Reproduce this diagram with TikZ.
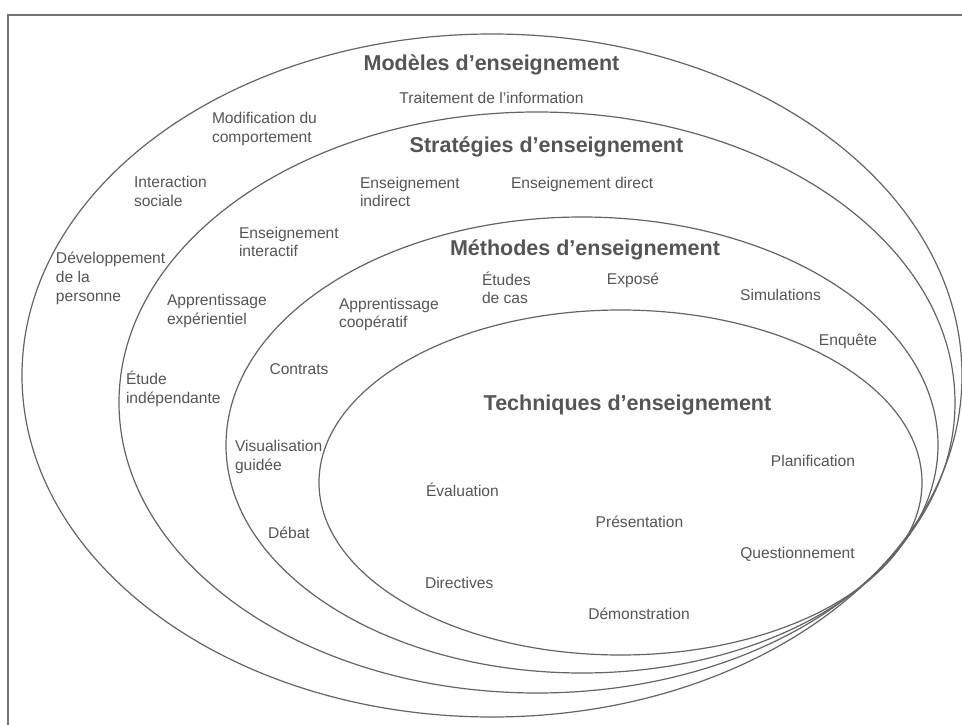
\documentclass[tikz,border=0pt]{standalone}
\usepackage{fontspec}
\setmainfont{Liberation Sans}
\usetikzlibrary{shapes.geometric}
\definecolor{txtc}{RGB}{85,85,85}
\definecolor{linec}{RGB}{100,100,100}
\definecolor{bordc}{RGB}{115,115,115}
\newcommand{\mlines}[1]{\begin{tabular}[t]{@{}l@{}}#1\end{tabular}}
\begin{document}
\begin{tikzpicture}[x=1pt,y=-1pt,
  lbl/.style={inner sep=0pt, outer sep=0pt, text=txtc, font=\fontsize{15.6}{18.8}\selectfont},
  lbll/.style={lbl, anchor=base west},
  lblc/.style={lbl, anchor=base},
  ttl/.style={inner sep=0pt, outer sep=0pt, text=txtc, font=\fontsize{21.5}{24}\selectfont\bfseries, anchor=base},
  ring/.style={ellipse, draw=linec, line width=1.2pt, inner sep=0pt, outer sep=0pt}]
\useasboundingbox (0,0) rectangle (962,725);
\fill[white] (0,0) rectangle (962,725);
\draw[bordc, line width=1.4pt] (8,725) -- (8,15) -- (962,15);

% nested ellipses
\node[ring, minimum width=940pt, minimum height=683pt] (models) at (492,375.5) {};
\node[ring, minimum width=836pt, minimum height=581pt] (strat) at (537,402.5) {};
\node[ring, minimum width=712pt, minimum height=456pt] (meth) at (582,445) {};
\node[ring, minimum width=603pt, minimum height=345pt] (tech) at (620.5,482.5) {};

% titles
\node[ttl] (tmod) at (491.5,70.5) {Modèles d’enseignement};
\node[ttl] (tstr) at (546.5,153) {Stratégies d’enseignement};
\node[ttl] (tmet) at (585,255) {Méthodes d’enseignement};
\node[ttl] (ttec) at (627.5,410) {Techniques d’enseignement};

% models
\node[lblc] (trait) at (491.5,103) {Traitement de l’information};
\node[lbll] (modif) at (212,124) {\mlines{Modification du\\comportement}};
\node[lbll] (inter) at (134,187.5) {\mlines{Interaction\\sociale}};
\node[lbll] (dev) at (56,263.5) {\mlines{Développement\\de la\\personne}};

% strategies
\node[lbll] (eind) at (360,188) {\mlines{Enseignement\\indirect}};
\node[lbll] (edir) at (511,188.5) {Enseignement direct};
\node[lbll] (eint) at (239,238) {\mlines{Enseignement\\interactif}};
\node[lbll] (aexp) at (167,305.5) {\mlines{Apprentissage\\expérientiel}};
\node[lbll] (etind) at (126,384.5) {\mlines{Étude\\indépendante}};

% methods
\node[lbll] (acoop) at (339,309) {\mlines{Apprentissage\\coopératif}};
\node[lbll] (etcas) at (482,285) {\mlines{Études\\de cas}};
\node[lblc] (expo) at (633,284.5) {Exposé};
\node[lblc] (simu) at (780.5,300) {Simulations};
\node[lblc] (enq) at (848,345.5) {Enquête};
\node[lblc] (contr) at (299,374) {Contrats};
\node[lbll] (visu) at (235,451.5) {\mlines{Visualisation\\guidée}};
\node[lblc] (debat) at (289,538.5) {Débat};

% techniques
\node[lblc] (plan) at (813,466.5) {Planification};
\node[lbll] (eval) at (426,496.5) {Évaluation};
\node[lblc] (pres) at (639.5,527.5) {Présentation};
\node[lblc] (quest) at (797.5,558.5) {Questionnement};
\node[lbll] (direc) at (425,588) {Directives};
\node[lblc] (demo) at (639,619) {Démonstration};
\end{tikzpicture}
\end{document}
